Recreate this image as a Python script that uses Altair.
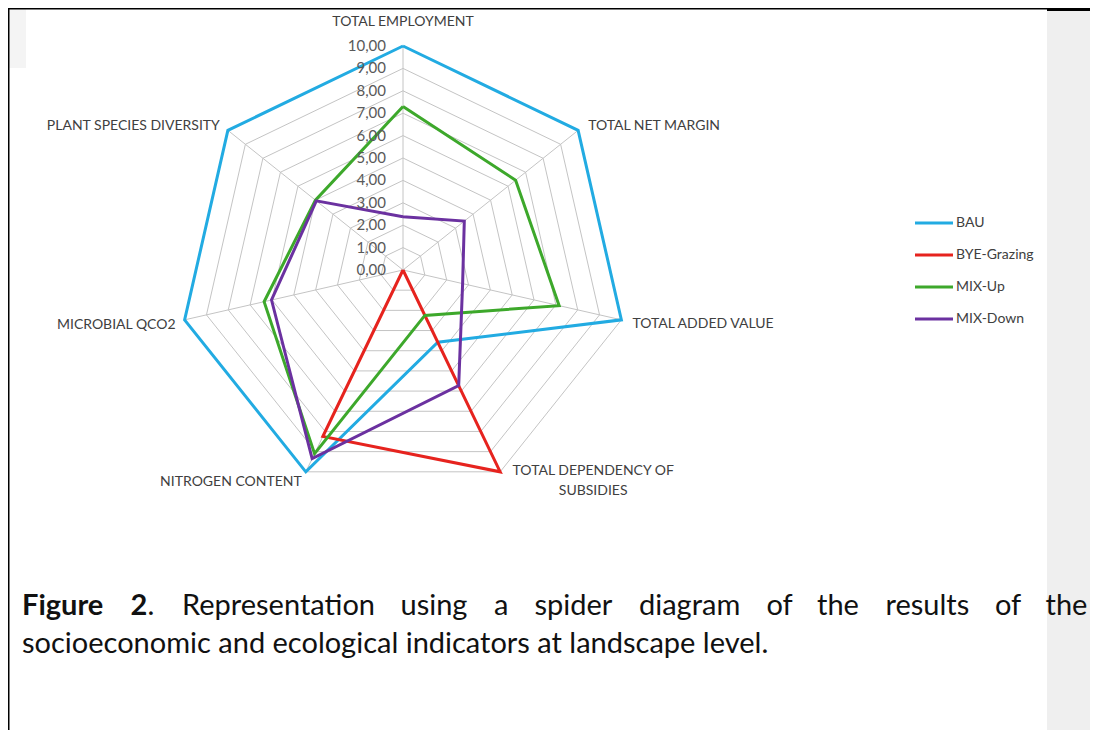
import altair as alt
import pandas as pd

# ---------------- data ----------------
axes = ["TOTAL EMPLOYMENT", "TOTAL NET MARGIN", "TOTAL ADDED VALUE",
        "TOTAL DEPENDENCY OF\nSUBSIDIES", "NITROGEN CONTENT", "MICROBIAL QCO2",
        "PLANT SPECIES DIVERSITY"]
series_names = ["BAU", "BYE-Grazing", "MIX-Up", "MIX-Down"]
bau = [10.0, 10.0, 10.0, 3.58, 10.0, 10.0, 10.0]
bye_grazing = [0.0, 0.0, 0.0, 10.0, 8.25, 0.0, 0.0]
mix_up = [7.30, 6.43, 7.15, 2.25, 9.10, 6.36, 5.00]
mix_down = [2.38, 3.50, 2.73, 5.73, 9.35, 6.02, 4.95]
ring_levels = [1, 2, 3, 4, 5, 6, 7, 8, 9, 10]
tick_values = [0, 1, 2, 3, 4, 5, 6, 7, 8, 9, 10]
tick_labels = ["0,00", "1,00", "2,00", "3,00", "4,00", "5,00",
               "6,00", "7,00", "8,00", "9,00", "10,00"]
series_colors = ["#22ABE2", "#E6231E", "#3DA82B", "#6B31A0"]

caption_line1 = ["Figure", "2", ".", "Representation", "using", "a", "spider",
                 "diagram", "of", "the", "results", "of", "the"]
caption_line2 = "socioeconomic and ecological indicators at landscape level."

# ---------------- tables ----------------
n = len(axes)
values = [bau, bye_grazing, mix_up, mix_down]
rows = []
for s, vals in zip(series_names, values):
    for k in range(n + 1):
        rows.append({"series": s, "order": k, "idx": k % n, "value": vals[k % n]})
series_df = pd.DataFrame(rows)

ring_df = pd.DataFrame([{"level": L, "order": k, "idx": k % n, "value": L}
                        for L in ring_levels for k in range(n + 1)])
spoke_df = pd.DataFrame({"idx": list(range(n)), "value": [max(ring_levels)] * n})
tick_df = pd.DataFrame({"value": tick_values, "label": tick_labels})
axis_df = pd.DataFrame({"axis": axes, "idx": list(range(n)),
                        "value": [max(ring_levels)] * n})
legend_df = pd.DataFrame({"series": series_names})

# ---------------- layout ----------------
W, H = 1082, 722
XS = alt.Scale(domain=[-10, 10], range=[171, 619], nice=False, zero=False)
YS = alt.Scale(domain=[-10, 10], range=[486, 38], nice=False, zero=False)
COLOR = alt.Scale(domain=series_names, range=series_colors)
FONT = "Lato"
GRID = "#C4C4C4"
polar = dict(ang="2*PI*datum.idx/7")


def cart(ch):
    return ch.transform_calculate(**polar).transform_calculate(
        px="datum.value*sin(datum.ang)", py="datum.value*cos(datum.ang)")


X = alt.X("px:Q", scale=XS, axis=None)
Y = alt.Y("py:Q", scale=YS, axis=None)
one = legend_df.head(1)

# background decorations (scan frame)
bg_right = alt.Chart(one).mark_rect(color="#EFEFEF").encode(
    x=alt.value(1039), x2=alt.value(W), y=alt.value(1), y2=alt.value(H))
bg_left = alt.Chart(one).mark_rect(color="#F4F4F4").encode(
    x=alt.value(1), x2=alt.value(18), y=alt.value(1), y2=alt.value(60))
border_top = alt.Chart(one).mark_rule(color="#000", strokeWidth=1.5).encode(
    x=alt.value(0), x2=alt.value(W), y=alt.value(0.75))
border_top2 = alt.Chart(one).mark_rule(color="#000", strokeWidth=3).encode(
    x=alt.value(1039), x2=alt.value(W), y=alt.value(1.5))
border_left = alt.Chart(one).mark_rule(color="#000", strokeWidth=1.5).encode(
    x=alt.value(0.75), y=alt.value(0), y2=alt.value(H))

rings = cart(alt.Chart(ring_df)).mark_line(color=GRID, strokeWidth=1).encode(
    x=X, y=Y, detail="level:N", order="order:Q")

spokes = cart(alt.Chart(spoke_df)).transform_calculate(zero="0").mark_rule(
    color=GRID, strokeWidth=1).encode(
    x=alt.X("zero:Q", scale=XS, axis=None), y=alt.Y("zero:Q", scale=YS, axis=None),
    x2="px:Q", y2="py:Q")

lines = cart(alt.Chart(series_df)).mark_line(strokeWidth=3, strokeJoin="miter").encode(
    x=X, y=Y,
    color=alt.Color("series:N", scale=COLOR, legend=None),
    detail="series:N", order="order:Q")

ticks = alt.Chart(tick_df).transform_calculate(zero="0").mark_text(
    align="right", baseline="middle", dx=-17, font=FONT, fontSize=15,
    color="#595959").encode(
    x=alt.X("zero:Q", scale=XS, axis=None),
    y=alt.Y("value:Q", scale=YS, axis=None), text="label:N")

# axis category labels (align, dx, dy per axis)
label_style = [("center", 0, -24), ("left", 10, -4), ("left", 11, 4),
               ("center", 93, -8), ("right", -4, 10), ("right", -9, 5),
               ("right", -8, -4)]
axis_labels = []
for i, (al, dx, dy) in enumerate(label_style):
    base = "top" if i == 3 else "middle"
    axis_labels.append(
        cart(alt.Chart(axis_df).transform_filter(f"datum.idx == {i}")).mark_text(
            align=al, baseline=base, dx=dx, dy=dy, font=FONT, fontSize=14,
            color="#404040", lineBreak="\n", lineHeight=20).encode(
            x=X, y=Y, text="axis:N"))

# legend
LY = alt.Y("series:N", scale=alt.Scale(type="point", domain=series_names,
                                       range=[215, 311], padding=0), axis=None)
leg_lines = alt.Chart(legend_df).mark_rule(strokeWidth=3).encode(
    x=alt.value(907), x2=alt.value(945), y=LY,
    color=alt.Color("series:N", scale=COLOR, legend=None))
leg_text = alt.Chart(legend_df).mark_text(
    align="left", baseline="middle", font=FONT, fontSize=14,
    color="#404040").encode(x=alt.value(948), y=LY, text="series:N")

# caption (first line justified word by word)
cap_x = [14, 122.5, 139.5, 174, 392.5, 486, 526.5, 631, 758.5, 809, 877.5, 987, 1037.5]
cap_layers = []
for j, (w, cx) in enumerate(zip(caption_line1, cap_x)):
    bold = j < 2
    cap_layers.append(alt.Chart(one).mark_text(
        align="left", baseline="alphabetic", font=FONT, fontSize=29,
        fontWeight="bold" if bold else "normal", color="#111111", text=w).encode(
        x=alt.value(cx), y=alt.value(607)))
cap_layers.append(alt.Chart(one).mark_text(
    align="left", baseline="alphabetic", font=FONT, fontSize=29,
    color="#111111", text=caption_line2).encode(x=alt.value(14), y=alt.value(645)))

chart = alt.layer(
    bg_right, bg_left, rings, spokes, lines, ticks, *axis_labels,
    leg_lines, leg_text, *cap_layers, border_top, border_top2, border_left
).resolve_scale(x="independent", y="independent").properties(
    width=W, height=H, padding=0,
    autosize=alt.AutoSizeParams(type="none")
).configure_view(stroke=None).configure(background="white")

chart.save("out.html", embed_options={"renderer": "svg", "actions": False})
